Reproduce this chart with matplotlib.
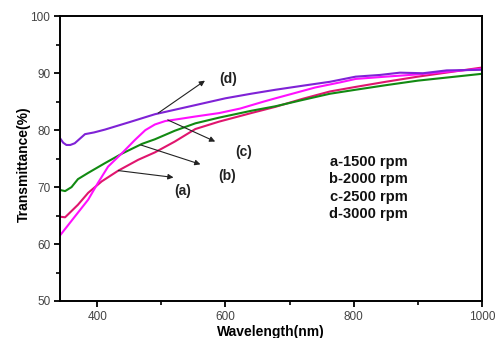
import matplotlib
matplotlib.use("Agg")
import matplotlib.pyplot as plt
from matplotlib.ticker import MultipleLocator

plt.rcParams['font.family'] = ['Liberation Sans', 'DejaVu Sans']

# a - 1500 rpm
wl_a = [342, 350, 370, 386, 407, 433, 464, 490, 521, 553, 590, 640, 678, 720, 763, 803, 850, 900, 950, 1000]
T_a = [64.8, 64.7, 66.9, 69.0, 71.0, 72.9, 74.8, 76.1, 78.0, 80.2, 81.5, 83.0, 84.1, 85.5, 86.8, 87.6, 88.5, 89.4, 90.2, 91.0]

# b - 2000 rpm
wl_b = [342, 350, 360, 370, 386, 412, 439, 470, 490, 521, 553, 590, 640, 678, 720, 763, 803, 850, 900, 950, 1000]
T_b = [69.5, 69.3, 70.0, 71.4, 72.5, 74.2, 75.9, 77.6, 78.4, 79.9, 81.2, 82.2, 83.4, 84.2, 85.3, 86.4, 87.1, 87.9, 88.7, 89.3, 89.9]

# c - 2500 rpm
wl_c = [342, 365, 386, 401, 417, 439, 459, 475, 490, 506, 530, 553, 590, 623, 659, 678, 701, 740, 779, 803, 850, 900, 950, 1000]
T_c = [61.5, 64.8, 67.8, 70.7, 73.6, 76.0, 78.3, 80.0, 81.0, 81.6, 82.0, 82.4, 83.0, 83.8, 85.0, 85.6, 86.3, 87.5, 88.4, 89.0, 89.4, 89.8, 90.3, 90.8]

# d - 3000 rpm
wl_d = [342, 347, 352, 358, 365, 373, 381, 395, 412, 450, 490, 553, 600, 640, 678, 720, 763, 803, 841, 872, 908, 945, 1000]
T_d = [78.6, 77.8, 77.4, 77.4, 77.7, 78.5, 79.3, 79.6, 80.1, 81.4, 82.8, 84.4, 85.6, 86.4, 87.1, 87.8, 88.5, 89.4, 89.7, 90.1, 90.0, 90.5, 90.6]

legend_lines = ["a-1500 rpm", "b-2000 rpm", "c-2500 rpm", "d-3000 rpm"]

fig = plt.figure(figsize=(4.99, 3.38), dpi=100)
ax = fig.add_axes([0.1202, 0.1095, 0.8458, 0.8423])

ax.plot(wl_a, T_a, color="#e0156e", lw=1.5)
ax.plot(wl_b, T_b, color="#128a12", lw=1.5)
ax.plot(wl_c, T_c, color="#ff10ff", lw=1.5)
ax.plot(wl_d, T_d, color="#7f22d6", lw=1.5)

arrow = dict(arrowstyle="-|>", color="#222222", lw=0.8, mutation_scale=8, shrinkA=0, shrinkB=0)
ax.annotate("", xy=(568, 88.7), xytext=(495, 83.0), arrowprops=arrow)
ax.annotate("", xy=(584, 78.0), xytext=(510, 81.8), arrowprops=arrow)
ax.annotate("", xy=(561, 74.0), xytext=(468, 77.4), arrowprops=arrow)
ax.annotate("", xy=(519, 71.7), xytext=(433, 72.9), arrowprops=arrow)

lbl = dict(fontsize=10, fontweight="bold", ha="center", va="center", color="#222222")
ax.text(605, 88.9, "(d)", **lbl)
ax.text(628, 76.2, "(c)", **lbl)
ax.text(603, 71.9, "(b)", **lbl)
ax.text(533, 69.4, "(a)", **lbl)

for i, s in enumerate(legend_lines):
    ax.text(823, 74.4 - i * 3.03, s, fontsize=10.5, fontweight="bold",
            ha="center", va="center", color="#111111")

ax.set_xlim(342, 1000)
ax.set_ylim(50, 100)
ax.xaxis.set_major_locator(MultipleLocator(200))
ax.xaxis.set_minor_locator(MultipleLocator(100))
ax.yaxis.set_major_locator(MultipleLocator(10))
ax.yaxis.set_minor_locator(MultipleLocator(5))
ax.tick_params(which="major", direction="out", length=4, width=1.3, labelsize=8.5,
               labelcolor="#444444", pad=3)
ax.tick_params(which="minor", direction="out", length=3, width=1.2)
for sp in ax.spines.values():
    sp.set_linewidth(1.4)

ax.set_xlabel("Wavelength(nm)", fontsize=10, fontweight="bold", labelpad=2)
ax.set_ylabel("Transmittance(%)", fontsize=10, fontweight="bold")
ax.yaxis.set_label_coords(-0.068, 0.48)

fig.savefig("out.png", dpi=100)
